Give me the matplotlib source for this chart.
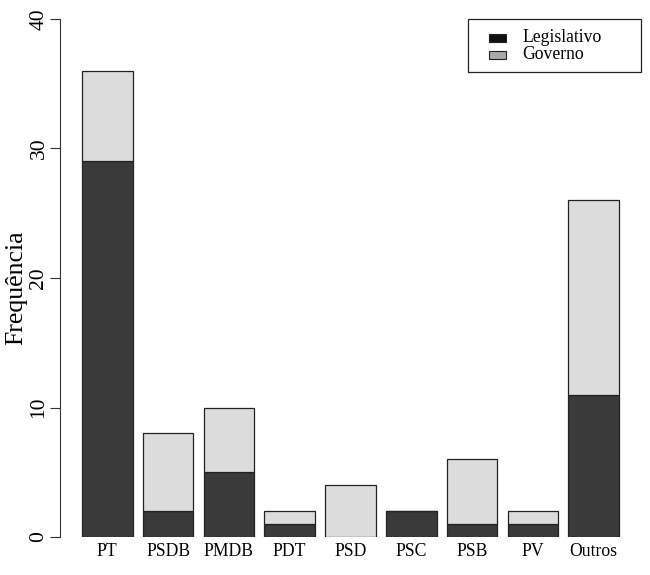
import matplotlib
matplotlib.use("Agg")
import matplotlib.pyplot as plt
from matplotlib.patches import Rectangle

partidos = ["PT", "PSDB", "PMDB", "PDT", "PSD", "PSC", "PSB", "PV", "Outros"]
legislativo = [29, 2, 5, 1, 0, 2, 1, 1, 11]
governo = [7, 6, 5, 1, 4, 0, 5, 1, 15]
y_ticks = [0, 10, 20, 30, 40]

plt.rcParams['font.family'] = ['Liberation Serif', 'DejaVu Serif']

W, H = 650, 575
fig = plt.figure(figsize=(6.5, 5.75), dpi=100)

# axes placed like R's plot region (x: 60.5..640.5 px, y: 0 at 537 px, 40 at 19 px)
ax = fig.add_axes([60.5 / W, (H - 537) / H, 580 / W, 518 / H])

# R barplot positions: width 1, space 0.2
pos = [0.2 + 1.2 * i + 0.5 for i in range(len(partidos))]
ax.bar(pos, legislativo, width=1.0, color='#3a3a3a', edgecolor='#222222', linewidth=0.9)
ax.bar(pos, governo, width=1.0, bottom=legislativo, color='#dcdcdc', edgecolor='#222222', linewidth=0.9)

ax.set_xlim(0.2 - 0.424, 10.8 + 0.424)
ax.set_ylim(0, 40)

for s in ['top', 'right', 'bottom']:
	ax.spines[s].set_visible(False)
ax.spines['left'].set_linewidth(0.8)
ax.spines['left'].set_color('#333333')

ax.set_yticks(y_ticks)
ax.set_yticklabels([str(t) for t in y_ticks], rotation=90, va='center', ha='center', fontsize=15.5)
ax.tick_params(axis='y', length=7, width=0.8, color='#333333', pad=8.5)
ax.set_xticks(pos)
ax.set_xticklabels(partidos, fontsize=12.7)
ax.tick_params(axis='x', length=0, pad=4)
ax.set_ylabel("Frequência", fontsize=18.5)
ax.yaxis.set_label_coords((27 - 60.5) / 580, (537 - 287.5) / 518)

# legend drawn like R's boxed legend (figure pixel coordinates)
def fx(px):
	return px / W

def fy(py):
	return (H - py) / H

fig.patches.append(Rectangle((fx(468), fy(72)), fx(641) - fx(468), fy(19) - fy(72),
	transform=fig.transFigure, facecolor='white', edgecolor='#222222', linewidth=0.9))
leg_items = [("Legislativo", '#111111', 38), ("Governo", '#aaaaaa', 54.5)]
for label, col, cy in leg_items:
	fig.patches.append(Rectangle((fx(489), fy(cy + 4)), fx(506) - fx(489), fy(cy - 4) - fy(cy + 4),
		transform=fig.transFigure, facecolor=col, edgecolor='#222222', linewidth=0.8))
	fig.text(fx(522), fy(cy), label, fontsize=12.7, va='center', ha='left')

fig.savefig("out.png", dpi=100)
